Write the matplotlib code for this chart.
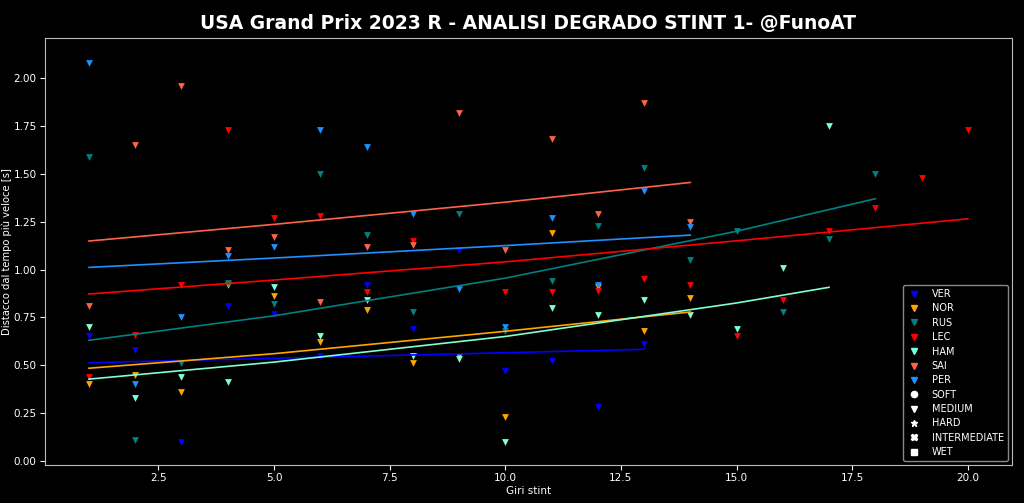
"""Stint 1 tyre degradation scatter with trend lines, USA GP 2023."""

import matplotlib

matplotlib.use("Agg")

import matplotlib.pyplot as plt
from matplotlib.lines import Line2D

TITLE = "USA Grand Prix 2023 R - ANALISI DEGRADO STINT 1- @FunoAT"

DRIVERS = ["VER", "NOR", "RUS", "LEC", "HAM", "SAI", "PER"]
COLORS = ["blue", "orange", "teal", "red", "aquamarine", "tomato", "dodgerblue"]

# lap number in stint -> gap to fastest lap [s]
ver_laps = [1, 2, 3, 4, 5, 6, 7, 8, 9, 10, 11, 12, 13]
ver_gap = [0.65, 0.58, 0.10, 0.81, 0.77, 0.55, 0.92, 0.69, 1.10, 0.47, 0.52, 0.28, 0.61]

nor_laps = [1, 2, 3, 4, 5, 6, 7, 8, 9, 10, 11, 12, 13, 14]
nor_gap = [0.40, 0.45, 0.36, 0.92, 0.86, 0.62, 0.79, 0.51, 0.55, 0.23, 1.19, 0.91, 0.68, 0.85]

rus_laps = [1, 2, 3, 4, 5, 6, 7, 8, 9, 10, 11, 12, 13, 14, 15, 16, 17, 18]
rus_gap = [1.59, 0.11, 0.51, 0.93, 0.82, 1.50, 1.18, 0.78, 1.29, 0.68, 0.94, 1.23,
           1.53, 1.05, 1.20, 0.78, 1.16, 1.50]

lec_laps = [1, 2, 3, 4, 5, 6, 7, 8, 10, 11, 12, 13, 14, 15, 16, 17, 18, 19, 20]
lec_gap = [0.44, 0.66, 0.92, 1.73, 1.27, 1.28, 0.88, 1.15, 0.88, 0.88, 0.89, 0.95,
           0.92, 0.65, 0.84, 1.20, 1.32, 1.48, 1.73]

ham_laps = [1, 2, 3, 4, 5, 6, 7, 8, 9, 10, 11, 12, 13, 14, 15, 16, 17]
ham_gap = [0.70, 0.33, 0.44, 0.41, 0.91, 0.65, 0.84, 0.55, 0.53, 0.10, 0.80, 0.76,
           0.84, 0.76, 0.69, 1.01, 1.75]

sai_laps = [1, 2, 3, 4, 5, 6, 7, 8, 9, 10, 11, 12, 13, 14]
sai_gap = [0.81, 1.65, 1.96, 1.10, 1.17, 0.83, 1.12, 1.13, 1.82, 1.10, 1.68, 1.29, 1.87, 1.25]

per_laps = [1, 2, 3, 4, 5, 6, 7, 8, 9, 10, 11, 12, 13, 14]
per_gap = [2.08, 0.40, 0.75, 1.07, 1.12, 1.73, 1.64, 1.29, 0.90, 0.70, 1.27, 0.92, 1.41, 1.22]

# trend lines
ver_trend_x = [1, 5, 10, 13]
ver_trend_y = [0.513, 0.536, 0.565, 0.583]
nor_trend_x = [1, 5, 10, 14]
nor_trend_y = [0.484, 0.560, 0.677, 0.778]
rus_trend_x = [1, 5, 10, 15, 18]
rus_trend_y = [0.630, 0.758, 0.955, 1.200, 1.370]
lec_trend_x = [1, 5, 10, 15, 20]
lec_trend_y = [0.872, 0.945, 1.040, 1.150, 1.265]
ham_trend_x = [1, 5, 10, 15, 17]
ham_trend_y = [0.427, 0.516, 0.650, 0.825, 0.907]
sai_trend_x = [1, 5, 10, 14]
sai_trend_y = [1.149, 1.236, 1.352, 1.455]
per_trend_x = [1, 5, 10, 14]
per_trend_y = [1.011, 1.060, 1.125, 1.180]

COMPOUNDS = ["SOFT", "MEDIUM", "HARD", "INTERMEDIATE", "WET"]
COMPOUND_MARKERS = ["o", "v", "*", "X", "s"]


def main() -> None:
    plt.style.use("dark_background")
    fig = plt.figure(figsize=(10.24, 5.03), dpi=100)
    ax = fig.add_axes([0.044, 0.0755, 0.944, 0.8485])

    laps = [ver_laps, nor_laps, rus_laps, lec_laps, ham_laps, sai_laps, per_laps]
    gaps = [ver_gap, nor_gap, rus_gap, lec_gap, ham_gap, sai_gap, per_gap]
    trends = [
        (ver_trend_x, ver_trend_y),
        (nor_trend_x, nor_trend_y),
        (rus_trend_x, rus_trend_y),
        (lec_trend_x, lec_trend_y),
        (ham_trend_x, ham_trend_y),
        (sai_trend_x, sai_trend_y),
        (per_trend_x, per_trend_y),
    ]

    for driver, color, xs, ys in zip(DRIVERS, COLORS, laps, gaps):
        ax.scatter(xs, ys, marker="v", s=24, color=color, linewidths=0)
    for color, (tx, ty) in zip(COLORS, trends):
        ax.plot(tx, ty, color=color, linewidth=1.2)

    ax.set_xlim(0.05, 20.95)
    ax.set_ylim(-0.022, 2.209)
    ax.set_xlabel("Giri stint", fontsize=7.5, labelpad=2)
    ax.set_ylabel("Distacco dal tempo più veloce [s]", fontsize=7.2, labelpad=1)
    ax.tick_params(labelsize=7.5, pad=2.5)
    for spine in ax.spines.values():
        spine.set_color("#bbbbbb")
    ax.set_title(TITLE, fontsize=13.5, fontweight="bold", pad=7)

    handles = [
        Line2D([], [], marker="v", linestyle="none", color=c, markersize=4.5, label=d)
        for d, c in zip(DRIVERS, COLORS)
    ]
    handles += [
        Line2D([], [], marker=m, linestyle="none", color="white", markersize=4.5, label=n)
        for n, m in zip(COMPOUNDS, COMPOUND_MARKERS)
    ]
    ax.legend(handles=handles, loc="lower right", fontsize=7, framealpha=1.0,
              edgecolor="#888888", handlelength=1.6, handletextpad=1.0,
              labelspacing=0.45, borderaxespad=0.4)

    fig.savefig("out.png", dpi=100, facecolor="black")
    plt.close(fig)


if __name__ == "__main__":
    main()
